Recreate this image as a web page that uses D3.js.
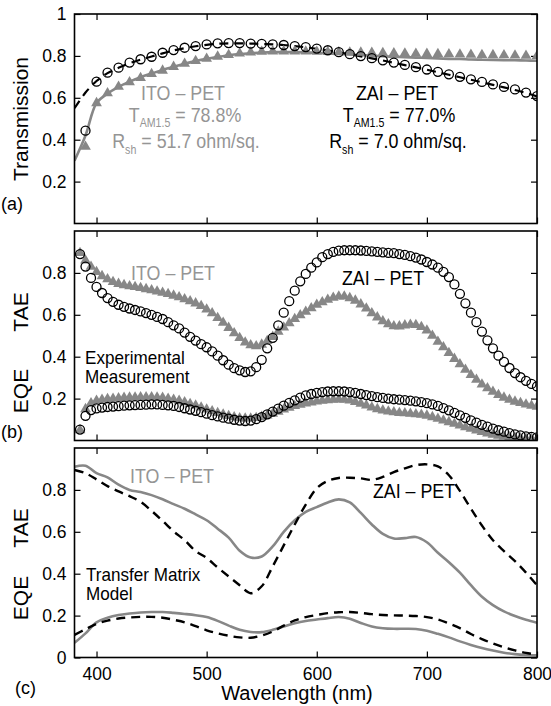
<!DOCTYPE html>
<html>
<head>
<meta charset="utf-8">
<script src="https://cdn.jsdelivr.net/npm/d3@7"></script>
<style>
  body { margin: 0; background: #fff; }
  svg { display: block; font-family: "Liberation Sans", Arial, sans-serif; }
</style>
</head>
<body>
<script>
// ---- data ----
const wl10 = d3.range(380, 801, 10);      // model curves, 380..800 nm
const wlMarkA = d3.range(390, 801, 10);   // panel (a) markers
const wlMarkB = d3.range(385, 801, 5);    // panel (b) markers

// (a) transmission
const zaiTransExp = [0.443, 0.677, 0.72, 0.744, 0.768, 0.784, 0.796, 0.815, 0.828, 0.839,
  0.847, 0.855, 0.86, 0.861, 0.861, 0.859, 0.857, 0.855, 0.852, 0.847,
  0.842, 0.835, 0.827, 0.818, 0.808, 0.799, 0.789, 0.779, 0.768, 0.757,
  0.746, 0.735, 0.724, 0.712, 0.70, 0.688, 0.676, 0.664, 0.652, 0.64,
  0.625, 0.608];
const zaiTransModel = [0.55, 0.625, 0.68,
  0.718, 0.743, 0.765, 0.782, 0.797, 0.812, 0.826, 0.837, 0.846, 0.853,
  0.858, 0.86, 0.86, 0.859, 0.857, 0.855, 0.852, 0.847, 0.841, 0.834,
  0.826, 0.817, 0.808, 0.798, 0.788, 0.778, 0.767, 0.756, 0.745, 0.734,
  0.722, 0.71, 0.698, 0.686, 0.674, 0.662, 0.65, 0.637, 0.623, 0.607];
const itoTransExp = [0.367, 0.575, 0.622, 0.653, 0.675, 0.695, 0.714, 0.73, 0.748, 0.763,
  0.776, 0.787, 0.797, 0.805, 0.812, 0.817, 0.82, 0.822, 0.822, 0.822,
  0.821, 0.82, 0.819, 0.818, 0.817, 0.816, 0.815, 0.814, 0.813, 0.812,
  0.811, 0.81, 0.809, 0.808, 0.807, 0.806, 0.805, 0.804, 0.803, 0.802,
  0.801, 0.80];
const itoTransModel = [0.30, 0.42, 0.575, 0.62, 0.652, 0.677, 0.698, 0.716, 0.733, 0.748,
  0.762, 0.775, 0.786, 0.795, 0.803, 0.809, 0.813, 0.816, 0.818, 0.818,
  0.818, 0.817, 0.815, 0.812, 0.81, 0.807, 0.804, 0.801, 0.798, 0.796,
  0.794, 0.792, 0.79, 0.788, 0.786, 0.785, 0.783, 0.782, 0.781, 0.78,
  0.779, 0.778, 0.777];

// (b) experimental measurement
const zaiTaeExp = [0.89, 0.83, 0.776, 0.733, 0.704, 0.68, 0.662, 0.648, 0.638, 0.63,
  0.623, 0.616, 0.608, 0.60, 0.59, 0.58, 0.565, 0.55, 0.535, 0.515,
  0.495, 0.477, 0.46, 0.445, 0.425, 0.405, 0.383, 0.362, 0.345, 0.335,
  0.327, 0.33, 0.35, 0.385, 0.44, 0.49, 0.55, 0.61, 0.665, 0.715,
  0.76, 0.795, 0.825, 0.85, 0.875, 0.89, 0.90, 0.906, 0.908, 0.908,
  0.908, 0.907, 0.905, 0.903, 0.90, 0.898, 0.896, 0.894, 0.89, 0.886,
  0.88, 0.873, 0.864, 0.852, 0.84, 0.825, 0.805, 0.78, 0.745, 0.70,
  0.655, 0.61, 0.565, 0.52, 0.478, 0.44, 0.405, 0.375, 0.346, 0.322,
  0.302, 0.285, 0.27, 0.258];
const itoTaeExp = [0.895, 0.86, 0.83, 0.805, 0.785, 0.77, 0.757, 0.748, 0.742, 0.737,
  0.733, 0.728, 0.723, 0.718, 0.712, 0.706, 0.70, 0.692, 0.684, 0.675,
  0.665, 0.655, 0.642, 0.626, 0.608, 0.585, 0.562, 0.538, 0.512, 0.49,
  0.468, 0.455, 0.45, 0.458, 0.475, 0.495, 0.52, 0.54, 0.56, 0.58,
  0.598, 0.615, 0.632, 0.648, 0.66, 0.672, 0.682, 0.688, 0.688, 0.68,
  0.668, 0.65, 0.63, 0.608, 0.588, 0.57, 0.555, 0.546, 0.545, 0.55,
  0.553, 0.552, 0.542, 0.525, 0.50, 0.472, 0.445, 0.418, 0.39, 0.364,
  0.338, 0.313, 0.29, 0.268, 0.25, 0.233, 0.218, 0.205, 0.195, 0.186,
  0.179, 0.172, 0.166, 0.162];
const zaiEqeExp = [0.052, 0.118, 0.145, 0.153, 0.157, 0.16, 0.162, 0.164, 0.166, 0.168,
  0.169, 0.17, 0.171, 0.172, 0.172, 0.17, 0.168, 0.165, 0.16, 0.154,
  0.148, 0.142, 0.135, 0.128, 0.121, 0.115, 0.109, 0.104, 0.099, 0.095,
  0.093, 0.095, 0.102, 0.112, 0.125, 0.138, 0.152, 0.166, 0.18, 0.192,
  0.205, 0.215, 0.222, 0.227, 0.231, 0.234, 0.235, 0.235, 0.234, 0.231,
  0.227, 0.222, 0.217, 0.212, 0.207, 0.203, 0.2, 0.197, 0.195, 0.193,
  0.19, 0.187, 0.183, 0.178, 0.172, 0.165, 0.155, 0.144, 0.132, 0.12,
  0.108, 0.096, 0.085, 0.075, 0.066, 0.057, 0.049, 0.042, 0.035, 0.029,
  0.024, 0.02, 0.017, 0.015];
const itoEqeExp = [0.05, 0.15, 0.178, 0.19, 0.195, 0.198, 0.2, 0.202, 0.204, 0.205,
  0.206, 0.207, 0.207, 0.207, 0.206, 0.204, 0.2, 0.195, 0.19, 0.183,
  0.175, 0.167, 0.158, 0.148, 0.14, 0.132, 0.124, 0.117, 0.111, 0.107,
  0.105, 0.105, 0.108, 0.113, 0.12, 0.128, 0.138, 0.148, 0.157, 0.165,
  0.171, 0.177, 0.182, 0.187, 0.19, 0.193, 0.195, 0.196, 0.195, 0.191,
  0.184, 0.176, 0.167, 0.158, 0.15, 0.144, 0.139, 0.135, 0.132, 0.13,
  0.128, 0.126, 0.123, 0.119, 0.112, 0.104, 0.096, 0.088, 0.08, 0.072,
  0.064, 0.056, 0.048, 0.041, 0.034, 0.028, 0.023, 0.019, 0.016, 0.013,
  0.011, 0.009, 0.008, 0.007];

// (c) transfer matrix model
const itoTaeModel = [0.91, 0.915, 0.88, 0.86, 0.825, 0.80, 0.79, 0.775, 0.755, 0.732,
  0.71, 0.683, 0.655, 0.615, 0.572, 0.51, 0.477, 0.482, 0.53, 0.60,
  0.655, 0.695, 0.718, 0.74, 0.755, 0.74, 0.69, 0.635, 0.59, 0.568,
  0.57, 0.575, 0.55, 0.50, 0.455, 0.405, 0.345, 0.29, 0.25, 0.22,
  0.198, 0.18, 0.166];
const zaiTaeModel = [0.895, 0.88, 0.85, 0.818, 0.793, 0.77, 0.743, 0.70, 0.652, 0.602,
  0.56, 0.508, 0.475, 0.43, 0.387, 0.345, 0.307, 0.34, 0.435, 0.535,
  0.635, 0.73, 0.808, 0.843, 0.857, 0.858, 0.855, 0.848, 0.862, 0.885,
  0.903, 0.918, 0.922, 0.912, 0.87, 0.795, 0.71, 0.63, 0.56, 0.508,
  0.46, 0.405, 0.345];
const itoEqeModel = [0.07, 0.115, 0.168, 0.19, 0.203, 0.21, 0.215, 0.217, 0.217, 0.213,
  0.208, 0.202, 0.193, 0.175, 0.152, 0.132, 0.122, 0.121, 0.132, 0.148,
  0.163, 0.174, 0.181, 0.188, 0.193, 0.185, 0.165, 0.148, 0.14, 0.137,
  0.137, 0.136, 0.128, 0.113, 0.096, 0.077, 0.06, 0.045, 0.033, 0.023,
  0.016, 0.012, 0.01];
const zaiEqeModel = [0.108, 0.135, 0.16, 0.176, 0.186, 0.191, 0.194, 0.194, 0.19, 0.18,
  0.168, 0.15, 0.13, 0.115, 0.104, 0.096, 0.094, 0.105, 0.124, 0.152,
  0.177, 0.193, 0.203, 0.212, 0.216, 0.217, 0.213, 0.207, 0.203, 0.201,
  0.20, 0.198, 0.193, 0.182, 0.162, 0.14, 0.112, 0.088, 0.067, 0.049,
  0.034, 0.022, 0.014];

const xTicks = [400, 500, 600, 700, 800];
const yTicksA = [0.2, 0.4, 0.6, 0.8, 1];
const yTicksB = [0.2, 0.4, 0.6, 0.8];
const yTicksC = [0, 0.2, 0.4, 0.6, 0.8];

// ---- layout ----
const W = 551, H = 706;
const left = 74.5, right = 537, panelH = 209.5;
const GRAY = "#878787", GRAY_TXT = "#959595";

const svg = d3.select("body").append("svg")
  .attr("width", W).attr("height", H);

const x = d3.scaleLinear().domain([380, 800]).range([left, right]);

function makePanel(top, yTicks, id) {
  const y = d3.scaleLinear().domain([0, 1]).range([top + panelH, top]);
  const g = svg.append("g");
  g.append("clipPath").attr("id", id).append("rect")
    .attr("x", left).attr("y", top).attr("width", right - left).attr("height", panelH);

  const tickFmt = d => d === 0 || d === 1 ? d3.format("d")(d) : d3.format(".1f")(d);
  g.append("g").attr("transform", `translate(${left},0)`)
    .call(d3.axisLeft(y).tickValues(yTicks).tickSize(-6).tickPadding(8).tickFormat(tickFmt));
  g.append("g").attr("transform", `translate(${right},0)`)
    .call(d3.axisRight(y).tickValues(yTicks).tickSize(-6).tickFormat(""));
  g.append("g").attr("transform", `translate(0,${top})`)
    .call(d3.axisTop(x).tickValues(xTicks).tickSize(-6).tickFormat(""));
  g.append("g").attr("transform", `translate(0,${top + panelH})`)
    .call(d3.axisBottom(x).tickValues(xTicks).tickSize(-6).tickPadding(10)
      .tickFormat(id === "clipC" ? d3.format("d") : ""));
  g.selectAll(".domain").remove();
  g.selectAll(".tick line").attr("stroke", "#000").attr("stroke-width", 1.2);
  g.selectAll(".tick text").attr("font-size", 17.5).attr("fill", "#000")
    .attr("font-family", "Liberation Sans, Arial, sans-serif");

  const plot = g.append("g").attr("clip-path", `url(#${id})`);
  g.append("rect").attr("x", left).attr("y", top)
    .attr("width", right - left).attr("height", panelH)
    .attr("fill", "none").attr("stroke", "#000").attr("stroke-width", 1.6);
  return { y, plot, g, top };
}

function modelLine(p, xs, ys, color, dashed, width) {
  const line = d3.line().x((d, i) => x(xs[i])).y(d => p.y(d)).curve(d3.curveCatmullRom);
  p.plot.append("path").datum(ys).attr("d", line)
    .attr("fill", "none").attr("stroke", color).attr("stroke-width", width)
    .attr("stroke-dasharray", dashed ? "9,6" : null);
}
const tri = d3.symbol(d3.symbolTriangle, 50);
function triangles(p, xs, ys) {
  p.plot.append("g").selectAll("path").data(ys).join("path")
    .attr("d", tri)
    .attr("transform", (d, i) => `translate(${x(xs[i])},${p.y(d)})`)
    .attr("fill", GRAY);
}
function circles(p, xs, ys) {
  p.plot.append("g").selectAll("circle").data(ys).join("circle")
    .attr("cx", (d, i) => x(xs[i])).attr("cy", d => p.y(d)).attr("r", 4.5)
    .attr("fill", "none").attr("stroke", "#000").attr("stroke-width", 1.3);
}

// condensed text helper (source uses a narrow sans)
function txt(px, py, str, opts = {}) {
  const size = opts.size || 21;
  const t = svg.append("text")
    .attr("transform", `translate(${px},${py}) scale(${opts.sx || 0.85},1)`)
    .attr("text-anchor", opts.anchor || "middle")
    .attr("font-size", size)
    .attr("fill", opts.color || "#000");
  if (typeof str === "string") t.text(str);
  else str.forEach(s => {
    t.append("tspan").text(s.t)
      .attr("font-size", s.sub ? 12.5 : size)
      .attr("dy", s.dy || 0);
  });
  return t;
}
function yLabel(cx, cy, str) {
  svg.append("text").attr("transform", `translate(${cx},${cy}) rotate(-90)`)
    .attr("text-anchor", "middle").attr("font-size", 21).text(str);
}

// ---- panel (a) ----
const pA = makePanel(14, yTicksA, "clipA");
modelLine(pA, wl10, itoTransModel, GRAY, false, 2.6);
modelLine(pA, wl10, zaiTransModel, "#000", true, 2.2);
triangles(pA, wlMarkA, itoTransExp);
circles(pA, wlMarkA, zaiTransExp);
yLabel(28, 119, "Transmission");

txt(183, 100, "ITO – PET", { color: GRAY_TXT });
txt(185, 122, [{ t: "T" }, { t: "AM1.5", sub: true, dy: 5 }, { t: " = 78.8%", dy: -5 }], { color: GRAY_TXT });
txt(186, 148, [{ t: "R" }, { t: "sh", sub: true, dy: 6 }, { t: " = 51.7 ohm/sq.", dy: -6 }], { color: GRAY_TXT });
txt(397, 100, "ZAI – PET");
txt(399, 122, [{ t: "T" }, { t: "AM1.5", sub: true, dy: 5 }, { t: " = 77.0%", dy: -5 }]);
txt(398, 148, [{ t: "R" }, { t: "sh", sub: true, dy: 6 }, { t: " = 7.0 ohm/sq.", dy: -6 }]);
txt(1, 210, "(a)", { anchor: "start", size: 18, sx: 1 });

// ---- panel (b) ----
const pB = makePanel(231, yTicksB, "clipB");
triangles(pB, wlMarkB, itoTaeExp);
triangles(pB, wlMarkB, itoEqeExp);
circles(pB, wlMarkB, zaiTaeExp);
circles(pB, wlMarkB, zaiEqeExp);
yLabel(28, 312, "TAE");
yLabel(28, 391, "EQE");
txt(173, 280, "ITO – PET", { color: GRAY_TXT });
txt(383, 285, "ZAI – PET");
txt(85, 364, "Experimental", { anchor: "start", size: 18, sx: 0.95 });
txt(85, 383, "Measurement", { anchor: "start", size: 18, sx: 0.95 });
txt(1, 438, "(b)", { anchor: "start", size: 18, sx: 1 });

// ---- panel (c) ----
const pC = makePanel(448, yTicksC, "clipC");
modelLine(pC, wl10, itoTaeModel, GRAY, false, 2.6);
modelLine(pC, wl10, itoEqeModel, GRAY, false, 2.6);
modelLine(pC, wl10, zaiTaeModel, "#000", true, 2.4);
modelLine(pC, wl10, zaiEqeModel, "#000", true, 2.4);
yLabel(28, 528, "TAE");
yLabel(28, 598, "EQE");
txt(172, 483, "ITO – PET", { color: GRAY_TXT });
txt(414, 498, "ZAI – PET");
txt(86, 581, "Transfer Matrix", { anchor: "start", size: 18, sx: 0.95 });
txt(86, 600, "Model", { anchor: "start", size: 18, sx: 0.95 });
txt(15, 694, "(c)", { anchor: "start", size: 18, sx: 1 });

svg.append("text").attr("x", 297).attr("y", 700).attr("text-anchor", "middle")
  .attr("font-size", 20).text("Wavelength (nm)");
</script>
</body>
</html>
